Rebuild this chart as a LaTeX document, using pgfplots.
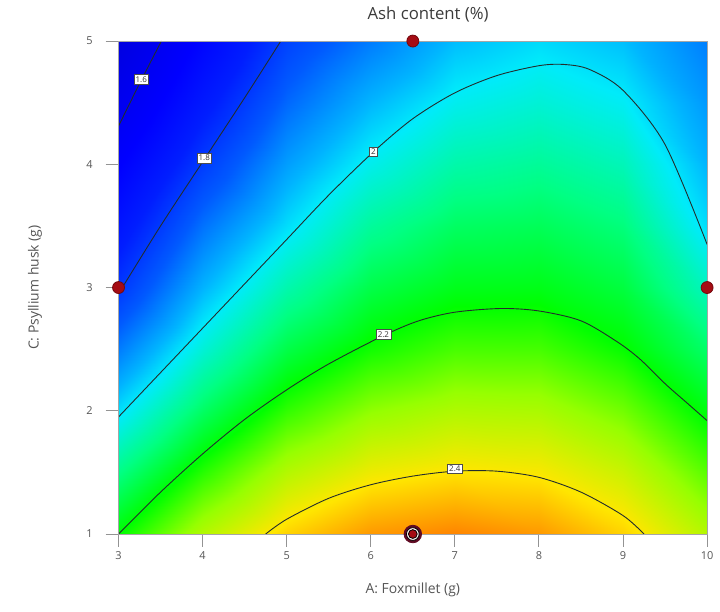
\documentclass[border=0pt]{standalone}
\usepackage{fontspec}
\setmainfont{Open Sans}
\usepackage{pgfplots}
\pgfplotsset{compat=1.18}
\definecolor{txt}{RGB}{85,85,85}
\definecolor{dkred}{RGB}{165,12,20}
\definecolor{ringdk}{RGB}{95,10,35}
\definecolor{cline}{RGB}{35,45,45}
\begin{document}
\begin{tikzpicture}
\begin{axis}[
 scale only axis, width=295.5pt, height=247.5pt,
 xmin=3, xmax=10, ymin=1, ymax=5,
 xtick={3,4,5,6,7,8,9,10}, ytick={1,2,3,4,5},
 tick align=outside, xtick pos=bottom, ytick pos=left,
 major tick length=6.5pt,
 tick style={draw=gray!85, line width=0.5pt},
 axis line style={draw=gray!70, line width=0.5pt},
 ticklabel style={font=\fontsize{5.5}{6}\selectfont, text=txt},
 yticklabel style={xshift=-3pt},
 xticklabel style={yshift=1pt},
 /pgf/number format/assume math mode=true,
 xlabel={A: Foxmillet (g)}, ylabel={C: Psyllium husk (g)},
 label style={font=\fontsize{7}{8}\selectfont, text=txt},
 xlabel style={at={(axis description cs:0.5,-0.113)}, anchor=center},
 ylabel style={at={(axis description cs:-0.142,0.5)}, anchor=center},
 title={Ash content (\%)},
 title style={at={(axis description cs:0.526,1.030)}, anchor=center, font=\fontsize{8.4}{9}\selectfont, text=txt!70!black},
 axis on top, clip=false,
 colormap={ash}{rgb255(0pt)=(0,0,225); rgb255(15pt)=(0,0,255); rgb255(25pt)=(0,30,255); rgb255(35pt)=(0,90,255); rgb255(45pt)=(0,180,255); rgb255(50pt)=(0,235,250); rgb255(60pt)=(0,255,130); rgb255(70pt)=(0,255,0); rgb255(80pt)=(150,255,0); rgb255(90pt)=(255,230,0); rgb255(100pt)=(255,125,0); rgb255(110pt)=(255,30,0)},
 point meta min=1.5, point meta max=2.6,
]
\addplot[surf, shader=interp, mesh/rows=9, point meta=\thisrow{z}] table {
A C z
3 1.0 2.200
4 1.0 2.328
5 1.0 2.419
6 1.0 2.474
7 1.0 2.493
8 1.0 2.474
9 1.0 2.419
10 1.0 2.328
3 1.5 2.097
4 1.5 2.225
5 1.5 2.328
6 1.5 2.383
7 1.5 2.402
8 1.5 2.394
9 1.5 2.349
10 1.5 2.258
3 2.0 1.990
4 2.0 2.125
5 2.0 2.233
6 2.0 2.297
7 2.0 2.324
8 2.0 2.320
9 2.0 2.276
10 2.0 2.189
3 2.5 1.888
4 2.5 2.030
5 2.5 2.145
6 2.5 2.211
7 2.5 2.247
8 2.5 2.246
9 2.5 2.203
10 2.5 2.119
3 3.0 1.793
4 3.0 1.950
5 3.0 2.065
6 3.0 2.145
7 3.0 2.180
8 3.0 2.183
9 3.0 2.152
10 3.0 2.049
3 3.5 1.719
4 3.5 1.877
5 3.5 1.988
6 3.5 2.080
7 3.5 2.125
8 3.5 2.133
9 3.5 2.105
10 3.5 1.987
3 4.0 1.646
4 4.0 1.800
5 4.0 1.926
6 4.0 2.012
7 4.0 2.067
8 4.0 2.082
9 4.0 2.055
10 4.0 1.950
3 4.5 1.572
4 4.5 1.731
5 4.5 1.866
6 4.5 1.952
7 4.5 2.010
8 4.5 2.031
9 4.5 2.005
10 4.5 1.920
3 5.0 1.500
4 5.0 1.666
5 5.0 1.810
6 5.0 1.888
7 5.0 1.958
8 5.0 1.985
9 5.0 1.960
10 5.0 1.890
};
% contour lines
\addplot[cline, line width=0.45pt, smooth] coordinates {(3,4.31) (3.25,4.655) (3.51,5)};
\addplot[cline, line width=0.45pt, smooth] coordinates {(3,2.95) (3.5,3.5) (4,4.02) (4.5,4.54) (4.93,5)};
\addplot[cline, line width=0.45pt, smooth] coordinates {(3,1.95) (3.5,2.31) (4,2.67) (4.5,3.03) (5,3.39) (5.5,3.75) (6.03,4.1) (6.5,4.37) (7,4.58) (7.5,4.72) (8,4.8) (8.3,4.81) (8.6,4.77) (9,4.6) (9.5,4.16) (10,3.35)};
\addplot[cline, line width=0.45pt, smooth] coordinates {(3,1.0) (3.5,1.34) (4,1.65) (4.5,1.93) (5,2.17) (5.5,2.38) (6.15,2.61) (6.57,2.73) (7,2.80) (7.55,2.83) (8,2.81) (8.5,2.73) (8.93,2.56) (9.2,2.42) (9.5,2.22) (9.75,2.07) (10,1.92)};
\addplot[cline, line width=0.45pt, smooth] coordinates {(4.75,1) (5,1.12) (5.5,1.29) (6,1.40) (6.5,1.47) (7,1.51) (7.5,1.51) (8,1.46) (8.5,1.34) (9,1.15) (9.25,1.0)};
% contour labels
\tikzset{clab/.style={font=\fontsize{4}{4.4}\selectfont, fill=white, draw=black!70, inner sep=0.9pt, line width=0.3pt, text=black!80}}
\node[clab] at (axis cs:3.27,4.69) {1.6};
\node[clab] at (axis cs:4.02,4.05) {1.8};
\node[clab] at (axis cs:6.03,4.1) {2};
\node[clab] at (axis cs:6.15,2.62) {2.2};
\node[clab] at (axis cs:7.0,1.53) {2.4};
% design points
\addplot[only marks, mark=*, mark size=3pt, mark options={fill=dkred, draw=dkred!70!black, line width=0.4pt}] coordinates {(3,3) (6.5,5) (10,3)};
\addplot[only marks, mark=*, mark size=4.4pt, mark options={fill=ringdk, draw=ringdk}] coordinates {(6.5,1)};
\addplot[only marks, mark=*, mark size=3.2pt, mark options={fill=white!80!pink, draw=none}] coordinates {(6.5,1)};
\addplot[only marks, mark=*, mark size=2.2pt, mark options={fill=dkred, draw=none}] coordinates {(6.5,1)};
\coordinate (bbsw) at (rel axis cs:-0.2014,-0.1576);
\coordinate (bbne) at (rel axis cs:1.0169,1.0646);
\end{axis}
\path (bbsw) rectangle (bbne);
\end{tikzpicture}
\end{document}
